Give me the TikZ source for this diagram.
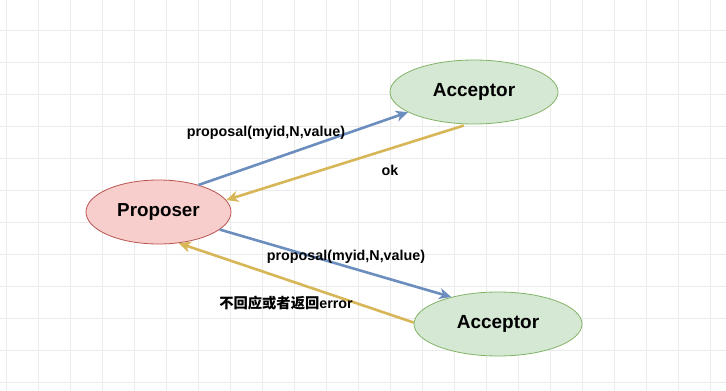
\documentclass[tikz,border=0pt]{standalone}
\usepackage{fontspec}
\setmainfont{Liberation Sans}
\newfontfamily\cjk{Noto Sans CJK SC}
\usetikzlibrary{shapes.geometric,arrows.meta}
\definecolor{gridc}{HTML}{EBEBEB}
\definecolor{bluec}{HTML}{6C8EBF}
\definecolor{yelc}{HTML}{D6B656}
\definecolor{greenf}{HTML}{D5E8D4}
\definecolor{greens}{HTML}{82B366}
\definecolor{redf}{HTML}{F8CECC}
\definecolor{reds}{HTML}{B85450}
\tikzset{
  gridline/.style={draw=gridc, line width=0.8pt},
  accbox/.style={ellipse, draw=greens, fill=greenf, line width=0.8pt, minimum width=168pt, minimum height=64pt, inner sep=0pt, font=\fontsize{19}{22}\selectfont\bfseries},
  propbox/.style={ellipse, draw=reds, fill=redf, line width=0.8pt, minimum width=145pt, minimum height=64pt, inner sep=0pt, font=\fontsize{18.8}{22}\selectfont\bfseries},
  conn/.style={line width=2.6pt, -{Stealth[length=12pt,width=11pt,inset=3.5pt]}},
  bluearrow/.style={conn, draw=bluec, color=bluec},
  yelarrow/.style={conn, draw=yelc, color=yelc},
  lbl/.style={inner sep=0pt, font=\fontsize{14.3}{16}\selectfont\bfseries}
}
\begin{document}
\begin{tikzpicture}[x=1pt,y=-1pt]
\useasboundingbox (0,0) rectangle (726,391);
\fill[white] (0,0) rectangle (726,391);
\foreach \x in {6,38,...,710} \draw[gridline] (\x,0) -- (\x,391);
\foreach \y in {30,62,...,382} \draw[gridline] (0,\y) -- (726,\y);
\node[accbox] (acc1) at (474,92) {Acceptor};
\node[propbox] (prop) at (158.5,212) {Proposer};
\node[accbox] (acc2) at (498,324) {Acceptor};
\draw[bluearrow] (prop.34) -- (acc1.197);
\draw[yelarrow, shorten <=4pt] (acc1.259) -- (prop.10);
\draw[bluearrow] (prop.344) -- (acc2.150);
\draw[yelarrow] (acc2.179) -- (prop.303);
\node[lbl] (l1) at (266,133) {proposal(myid,N,value)};
\node[lbl] (l2) at (390,170) {ok};
\node[lbl] (l3) at (346,257) {proposal(myid,N,value)};
\node[lbl] (l4) at (286,303) {{\cjk\bfseries 不回应或者返回}error};
\end{tikzpicture}
\end{document}
